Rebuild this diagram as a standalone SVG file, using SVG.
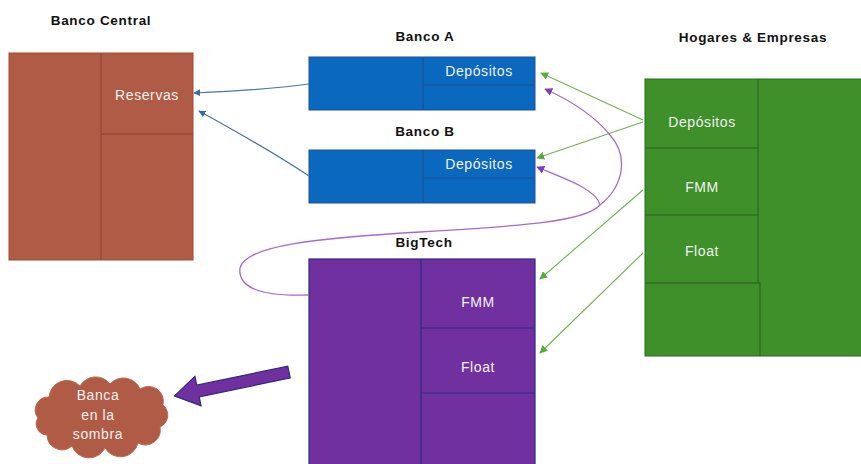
<svg xmlns="http://www.w3.org/2000/svg" width="861" height="464" viewBox="0 0 861 464">
<defs>
<style>
.title{font-family:"Liberation Sans",Arial,sans-serif;font-size:13.5px;font-weight:bold;fill:#111;text-anchor:middle;letter-spacing:0.7px}
.lbl{font-family:"Liberation Sans",Arial,sans-serif;font-size:14px;fill:#f2f2f2;text-anchor:middle;letter-spacing:0.6px}
.cb{fill:#b05b45;stroke:#a04a38;stroke-width:1}
.cbl{stroke:#8f4233;stroke-width:1;fill:none}
.bk{fill:#0a68bf;stroke:#1e4f95;stroke-width:1}
.bkl{stroke:#1c4c8e;stroke-width:1;fill:none}
.bt{fill:#7030a0;stroke:#2e2a7e;stroke-width:1.2}
.btl{stroke:#2e2a7e;stroke-width:1.2;fill:none}
.hg{fill:#3f8f2b;stroke:#2d6a1e;stroke-width:1}
.hgl{stroke:#2a5f1c;stroke-width:1;fill:none}
.blue{stroke:#4a72b4;stroke-width:1.2;fill:none;marker-end:url(#ab)}
.green{stroke:#6cb550;stroke-width:1.1;fill:none;marker-end:url(#ag)}
.purp{stroke:#a569d6;stroke-width:1.3;fill:none}
</style>
<marker id="ab" viewBox="0 0 10 10" refX="9" refY="5" markerWidth="7" markerHeight="7" markerUnits="userSpaceOnUse" orient="auto"><path d="M0,0 L10,5 L0,10 z" fill="#3f66aa"/></marker>
<marker id="ag" viewBox="0 0 10 10" refX="9" refY="5" markerWidth="8" markerHeight="8" markerUnits="userSpaceOnUse" orient="auto"><path d="M0,0 L10,5 L0,10 z" fill="#5aa83e"/></marker>
<marker id="ap" viewBox="0 0 10 10" refX="9" refY="5" markerWidth="8" markerHeight="8" markerUnits="userSpaceOnUse" orient="auto"><path d="M0,0 L10,5 L0,10 z" fill="#7a3fb8"/></marker>
</defs>
<rect width="861" height="464" fill="#ffffff"/>

<g id="banco-central">
<text class="title" x="101" y="25">Banco Central</text>
<rect class="cb" x="9" y="53" width="184" height="207"/>
<line class="cbl" x1="101" y1="53" x2="101" y2="260"/>
<line class="cbl" x1="101" y1="134" x2="193" y2="134"/>
<text class="lbl" x="147" y="100">Reservas</text>
</g>

<g id="banco-a">
<text class="title" x="425" y="41">Banco A</text>
<rect class="bk" x="309" y="57" width="226" height="53"/>
<line class="bkl" x1="423" y1="57" x2="423" y2="110"/>
<line class="bkl" x1="423" y1="85" x2="535" y2="85"/>
<text class="lbl" x="479" y="76">Depósitos</text>
</g>

<g id="banco-b">
<text class="title" x="425" y="136">Banco B</text>
<rect class="bk" x="309" y="150" width="226" height="53"/>
<line class="bkl" x1="423" y1="150" x2="423" y2="203"/>
<line class="bkl" x1="423" y1="178" x2="535" y2="178"/>
<text class="lbl" x="479" y="169">Depósitos</text>
</g>

<g id="bigtech">
<text class="title" x="424" y="247">BigTech</text>
<rect class="bt" x="309" y="259" width="226" height="210"/>
<line class="btl" x1="421" y1="259" x2="421" y2="469"/>
<line class="btl" x1="421" y1="328" x2="535" y2="328"/>
<line class="btl" x1="421" y1="393" x2="535" y2="393"/>
<text class="lbl" x="478" y="307">FMM</text>
<text class="lbl" x="478" y="372">Float</text>
</g>

<g id="hogares">
<text class="title" x="753" y="42">Hogares &amp; Empresas</text>
<rect class="hg" x="645" y="79" width="220" height="277"/>
<line class="hgl" x1="758" y1="79" x2="758" y2="283"/>
<line class="hgl" x1="645" y1="148" x2="758" y2="148"/>
<line class="hgl" x1="645" y1="215" x2="758" y2="215"/>
<line class="hgl" x1="645" y1="283" x2="760" y2="283"/>
<line class="hgl" x1="760" y1="283" x2="760" y2="356"/>
<text class="lbl" x="702" y="127">Depósitos</text>
<text class="lbl" x="702" y="192">FMM</text>
<text class="lbl" x="702" y="256">Float</text>
</g>

<g id="banca-sombra">
<path d="M 38,418 A 13,13 0 0 1 49,397 A 18,18 0 0 1 80,386 A 18,18 0 0 1 110,384 A 18,18 0 0 1 140,389 A 15,15 0 0 1 163,405 A 13,13 0 0 1 160,427 A 15,15 0 0 1 138,443 A 18,18 0 0 1 105,448 A 18,18 0 0 1 72,446 A 15,15 0 0 1 47,435 A 11,11 0 0 1 38,418 Z" fill="#b05b45" stroke="#c06a55" stroke-width="1"/>
<text class="lbl" x="98" y="400">Banca</text>
<text class="lbl" x="98" y="420">en la</text>
<text class="lbl" x="98" y="439">sombra</text>
</g>

<g id="connectors">
<path class="blue" d="M 309,84 C 280,88 240,91 194,93"/>
<path class="blue" d="M 309,176 C 270,150 230,128 199,111"/>
<line class="green" x1="643" y1="120" x2="541" y2="73"/>
<line class="green" x1="643" y1="122" x2="537" y2="158"/>
<line class="green" x1="643" y1="190" x2="540" y2="279"/>
<line class="green" x1="643" y1="253" x2="540" y2="353"/>
<path class="purp" d="M 308,295 C 255,297 238,285 240,268 C 245,245 320,238 420,232 C 520,226 585,222 600,205 C 625,185 628,155 610,135 C 592,113 565,98 545,89" marker-end="url(#ap)"/>
<path class="purp" d="M 600,205 C 597,190 568,180 537,167" marker-end="url(#ap)"/>
<polygon points="0,-6 93,-6 93,-15 117,0 93,15 93,6 0,6" transform="translate(289,372) rotate(168.2)" fill="#7030a0" stroke="#2e2a7e" stroke-width="1.2"/>
</g>
</svg>
